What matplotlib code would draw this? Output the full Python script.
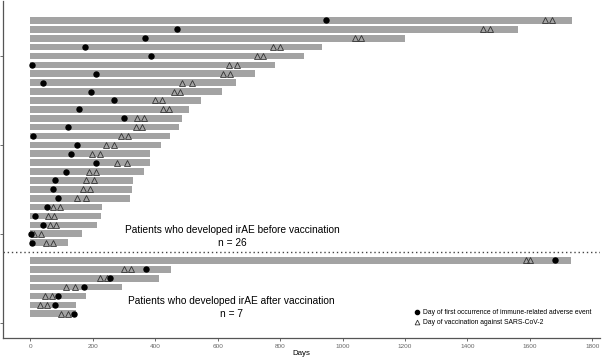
import matplotlib.pyplot as plt
from matplotlib.lines import Line2D

plt.rcParams['font.family'] = ['Liberation Sans', 'DejaVu Sans']

# patients who developed irAE before vaccination (top to bottom)
before_end = [1736, 1562, 1201, 933, 878, 785, 719, 659, 614, 546, 508, 485, 477,
              449, 420, 385, 385, 364, 329, 327, 321, 231, 228, 215, 165, 121]
before_irae = [948, 469, 369, 176, 388, 6, 211, 42, 195, 267, 156, 300, 121,
               8, 149, 130, 211, 114, 78, 74, 88, 54, 14, 41, 2, 6]
before_vac1 = [1648, 1449, 1039, 779, 726, 638, 617, 485, 459, 400, 425, 342, 339,
               292, 244, 199, 279, 188, 180, 168, 150, 74, 58, 63, 13, 51]
before_vac2 = [1670, 1472, 1059, 799, 746, 662, 639, 517, 481, 421, 446, 364, 359,
               312, 268, 223, 309, 212, 204, 193, 178, 96, 77, 84, 34, 72]

# patients who developed irAE after vaccination (top to bottom)
after_end = [1731, 452, 412, 293, 178, 146, 146]
after_irae = [1681, 372, 255, 171, 90, 80, 140]
after_vac1 = [1587, 300, 225, 114, 48, 31, 99]
after_vac2 = [1601, 322, 246, 144, 70, 53, 121]

n_before = len(before_end)
n_after = len(after_end)

# slot positions: after-group at the bottom, one empty slot, then before-group
y_after = list(range(n_after, 0, -1))
gap_y = n_after + 1
y_before = list(range(n_after + 1 + n_before, n_after + 1, -1))

fig = plt.figure(figsize=(6.02, 3.59), dpi=100)
ax = fig.add_axes([0.0055, 0.0593, 0.9915, 0.938])

bar_col = '#a3a3a3'
ax.barh(y_before, before_end, height=0.75, color=bar_col, zorder=1)
ax.barh(y_after, after_end, height=0.75, color=bar_col, zorder=1)

ms_dot = 3.6
ms_tri = 4.0
for ys, irae, v1, v2 in [(y_before, before_irae, before_vac1, before_vac2),
                         (y_after, after_irae, after_vac1, after_vac2)]:
    ax.plot(v1, ys, '^', ms=ms_tri, mfc='none', mec='#333333', mew=0.6, ls='none', zorder=3)
    ax.plot(v2, ys, '^', ms=ms_tri, mfc='none', mec='#333333', mew=0.6, ls='none', zorder=3)
    ax.plot(irae, ys, 'o', ms=ms_dot, color='black', ls='none', zorder=4)

ax.axhline(gap_y, color='#444444', lw=1.0, ls=(0, (1, 2)))

ax.text(648, 10.45, 'Patients who developed irAE before vaccination',
        ha='center', va='center', fontsize=7.3)
ax.text(648, 8.95, 'n = 26', ha='center', va='center', fontsize=7.3)
ax.text(645, 2.45, 'Patients who developed irAE after vaccination',
        ha='center', va='center', fontsize=7.3)
ax.text(645, 0.98, 'n = 7', ha='center', va='center', fontsize=7.3)

handles = [Line2D([], [], marker='o', ls='none', color='black', ms=3),
           Line2D([], [], marker='^', ls='none', mfc='none', mec='#333333', mew=0.6, ms=3.4)]
labels = ['Day of first occurrence of immune-related adverse event',
          'Day of vaccination against SARS-CoV-2']
ax.legend(handles, labels, loc='upper left', bbox_to_anchor=(0.682, 0.148),
          bbox_transform=fig.transFigure, frameon=False, fontsize=4.9,
          handlelength=0.8, handletextpad=0.5, labelspacing=0.45, borderpad=0)

ax.set_xlim(-86, 1825)
ax.set_ylim(-1.69, 36.19)
ax.set_xticks(range(0, 1801, 200))
ax.set_yticks([0, 10, 20, 30])
ax.set_yticklabels([])
ax.tick_params(axis='x', labelsize=4.6, labelcolor='#666666', color='#555555',
               length=2.5, width=0.6, pad=2)
ax.tick_params(axis='y', color='#555555', length=2.5, width=0.6)
ax.set_xlabel('Days', fontsize=5.7, labelpad=1)

for side in ['top', 'right']:
    ax.spines[side].set_visible(False)
for side in ['left', 'bottom']:
    ax.spines[side].set_color('#555555')
    ax.spines[side].set_linewidth(0.9)

fig.savefig('out.png', dpi=100)
